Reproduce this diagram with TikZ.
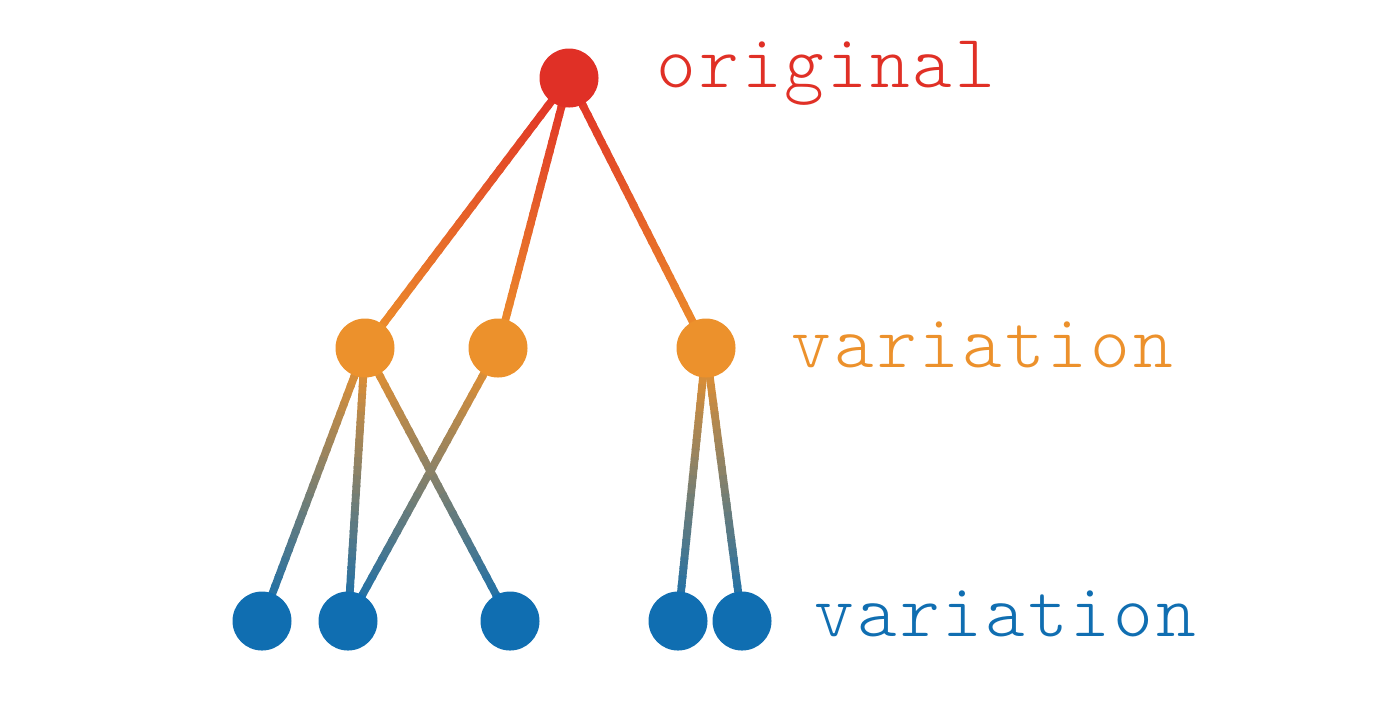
\documentclass[tikz,border=0pt]{standalone}
\usepackage{fontspec}
\setmonofont[LetterSpace=4]{Latin Modern Mono Light}
\usepackage{tikz}
\usetikzlibrary{calc, backgrounds}

\definecolor{origred}{HTML}{E03026}
\definecolor{varorange}{HTML}{EC912C}
\definecolor{varblue}{HTML}{106EB1}

% edge with a colour ramp: from, to, start colour, end colour
\newcommand{\rampedge}[4]{%
  \foreach \i in {0,...,29}{
    \pgfmathtruncatemacro{\pct}{100*\i/29}
    \draw[edge, draw=#4!\pct!#3] ($(#1)!{\i/30}!(#2)$) -- ($(#1)!{(\i+1.3)/30}!(#2)$);
  }}

\begin{document}
\begin{tikzpicture}[
  x=0.1mm, y=-0.1mm,
  dot/.style = {circle, inner sep=0pt, minimum size=5.9mm},
  edge/.style = {line width=0.78mm},
  level/.style = {anchor=base west, inner sep=0pt, font=\ttfamily\fontsize{21.5}{26}\selectfont}
]
  \useasboundingbox (0,0) rectangle (1400,700);

  % Original
  \node[dot, fill=origred] (root) at (569,78) {};

  % First variations
  \node[dot, fill=varorange] (va) at (365,348) {};
  \node[dot, fill=varorange] (vb) at (498,348) {};
  \node[dot, fill=varorange] (vc) at (706,348) {};

  % Second variations
  \node[dot, fill=varblue] (wa) at (262,621) {};
  \node[dot, fill=varblue] (wb) at (348,621) {};
  \node[dot, fill=varblue] (wc) at (510,621) {};
  \node[dot, fill=varblue] (wd) at (678,621) {};
  \node[dot, fill=varblue] (we) at (742,621) {};

  % Level labels
  \node[level, text=origred] (lorig) at (656,87) {original};
  \node[level, text=varorange] (lvar) at (791,367) {variation};
  \node[level, text=varblue] (lvar2) at (814,636) {variation};

  \begin{pgfonlayer}{background}
    \rampedge{root}{va}{origred}{varorange}
    \rampedge{root}{vb}{origred}{varorange}
    \rampedge{root}{vc}{origred}{varorange}
    \rampedge{va}{wa}{varorange}{varblue}
    \rampedge{va}{wb}{varorange}{varblue}
    \rampedge{va}{wc}{varorange}{varblue}
    \rampedge{vb}{wb}{varorange}{varblue}
    \rampedge{vc}{wd}{varorange}{varblue}
    \rampedge{vc}{we}{varorange}{varblue}
  \end{pgfonlayer}

\end{tikzpicture}
\end{document}
